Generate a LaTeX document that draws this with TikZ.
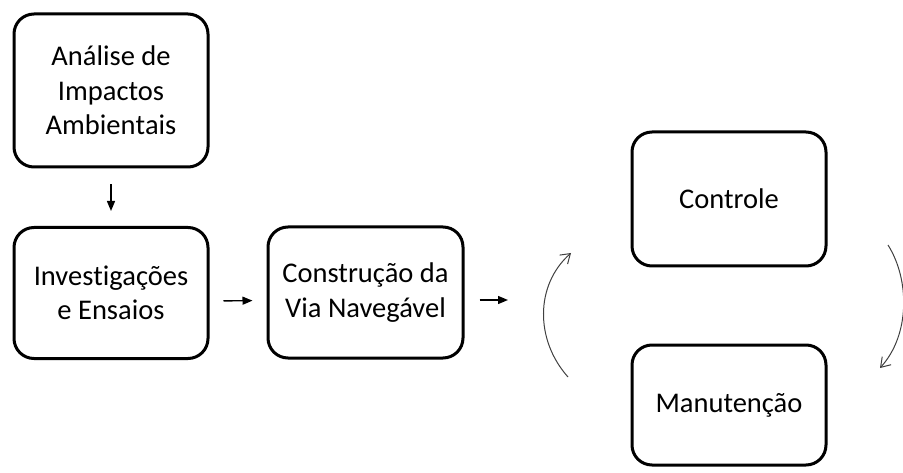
\documentclass[tikz,border=0pt]{standalone}
\usepackage{fontspec}
\setmainfont[Ligatures={NoCommon,NoRequired,NoContextual},RawFeature={-liga;-clig;-dlig;-calt}]{Carlito}
\usetikzlibrary{arrows.meta}
\begin{document}
\begin{tikzpicture}[x=1pt,y=-1pt,
  box/.style={draw=black, line width=3pt, rounded corners=20pt, align=center,
    font=\fontsize{28.5}{34.5}\selectfont, inner sep=0pt},
  arr/.style={line width=1.4pt, -{Triangle[length=10pt,width=8pt]}},
  cyc/.style={draw=black!75, line width=1pt, -{Straight Barb[length=9pt,width=12pt,line width=1pt]}}]
\useasboundingbox (0,0) rectangle (903,473);
\node[box, minimum width=194pt, minimum height=153pt] (b1) at (111,90.5) {Análise de\\Impactos\\Ambien\kern0pt t\kern0pt ais};
\node[box, minimum width=194pt, minimum height=131pt] (b2) at (111,293) {Inves\kern0pt t\kern0pt igações\\e Ensaios};
\node[box, minimum width=195pt, minimum height=131pt] (b3) at (365.5,292.5) {Construção da\\Via Navegável};
\node[box, minimum width=194pt, minimum height=134pt] (b4) at (729,199) {Controle};
\node[box, minimum width=194pt, minimum height=120pt] (b5) at (729,405) {Manutenção};
\draw[arr, shorten <=16pt, shorten >=15pt] (b1.south) -- (b2.north);
\draw[arr, shorten <=14pt, shorten >=14pt] ([yshift=-8pt]b2.east) -- ([yshift=-8pt]b3.west);
\coordinate (c3) at (508,300);
\draw[arr, shorten <=15pt] (b3.east |- c3) -- (c3);
\coordinate (l0) at (568,377);
\coordinate (l1) at (571,253);
\draw[cyc] (l0) .. controls (535,340) and (535,285) .. (l1);
\coordinate (r0) at (888,245);
\coordinate (r1) at (880,368);
\draw[cyc] (r0) .. controls (910,280) and (910,335) .. (r1);
\end{tikzpicture}
\end{document}
